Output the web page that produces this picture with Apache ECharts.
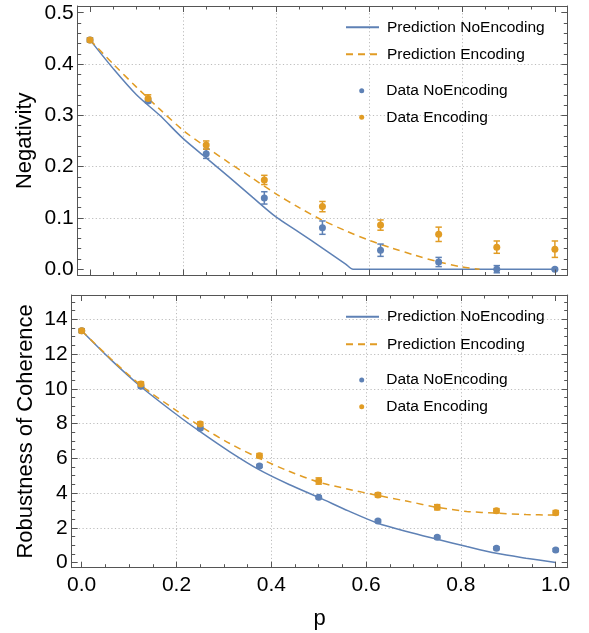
<!DOCTYPE html>
<html>
<head>
<meta charset="utf-8">
<script src="https://cdn.jsdelivr.net/npm/echarts@6/dist/echarts.min.js"></script>
<style>
  html, body { margin: 0; padding: 0; background: #ffffff; }
  #chart { width: 589px; height: 633px; }
</style>
</head>
<body>
<div id="chart"></div>
<script>
// Noise parameter p at which the states were measured
const pData = [0, 0.125, 0.25, 0.375, 0.5, 0.625, 0.75, 0.875, 1];

// Negativity: measured values and uncertainties
const negNoEnc    = [0.447, 0.328, 0.225, 0.139, 0.081, 0.037, 0.014, 0.000, 0.000];
const negNoEncErr = [0.004, 0.004, 0.009, 0.012, 0.013, 0.012, 0.009, 0.007, 0.002];
const negEnc      = [0.447, 0.333, 0.242, 0.174, 0.122, 0.086, 0.068, 0.043, 0.039];
const negEncErr   = [0.004, 0.007, 0.008, 0.009, 0.010, 0.010, 0.014, 0.012, 0.016];

// Negativity: predicted curves
const negPredNoEncP = [0, 0.05, 0.1, 0.15, 0.2, 0.25, 0.3, 0.35, 0.4, 0.45, 0.5, 0.55, 0.566, 0.7, 0.85, 1];
const negPredNoEnc  = [0.447, 0.391, 0.340, 0.300, 0.255, 0.217, 0.179, 0.140, 0.102, 0.072, 0.041, 0.010, 0, 0, 0, 0];
const negPredEncP   = [0, 0.05, 0.1, 0.15, 0.2, 0.25, 0.3, 0.35, 0.4, 0.45, 0.5, 0.55, 0.6, 0.65, 0.7, 0.75, 0.8, 0.838];
const negPredEnc    = [0.447, 0.400, 0.355, 0.312, 0.271, 0.238, 0.207, 0.177, 0.147, 0.120, 0.0955, 0.075, 0.0565, 0.041, 0.027, 0.0142, 0.0045, 0];

// Robustness of coherence: measured values and uncertainties
const rocNoEnc    = [13.34, 10.14, 7.73, 5.56, 3.75, 2.39, 1.45, 0.82, 0.72];
const rocNoEncErr = [0.08, 0.08, 0.08, 0.08, 0.08, 0.08, 0.08, 0.08, 0.08];
const rocEnc      = [13.34, 10.28, 7.97, 6.15, 4.69, 3.89, 3.18, 2.98, 2.87];
const rocEncErr   = [0.12, 0.12, 0.12, 0.12, 0.18, 0.12, 0.15, 0.12, 0.12];

// Robustness of coherence: predicted curves
const rocPredP     = [0, 0.0625, 0.125, 0.2, 0.25, 0.3125, 0.375, 0.4375, 0.5, 0.5625, 0.625, 0.6875, 0.75, 0.8125, 0.875, 0.9375, 1];
const rocPredNoEnc = [13.34, 11.65, 10.12, 8.52, 7.53, 6.37, 5.33, 4.49, 3.75, 2.97, 2.26, 1.77, 1.34, 0.92, 0.53, 0.25, 0.0];
const rocPredEnc   = [13.34, 11.70, 10.20, 8.74, 7.85, 6.85, 6.00, 5.25, 4.63, 4.22, 3.86, 3.52, 3.18, 2.94, 2.84, 2.76, 2.73];

// Tick positions
const xMajor   = [0, 0.2, 0.4, 0.6, 0.8, 1];
const xMinor   = [0.05, 0.1, 0.15, 0.25, 0.3, 0.35, 0.45, 0.5, 0.55, 0.65, 0.7, 0.75, 0.85, 0.9, 0.95];
const xGrid    = [0.2, 0.4, 0.6, 0.8];
const negMajor = [0, 0.1, 0.2, 0.3, 0.4, 0.5];
const negMinor = [0.02, 0.04, 0.06, 0.08, 0.12, 0.14, 0.16, 0.18, 0.22, 0.24, 0.26, 0.28,
                  0.32, 0.34, 0.36, 0.38, 0.42, 0.44, 0.46, 0.48];
const negGrid  = [0.1, 0.2, 0.3, 0.4];
const rocMajor = [0, 2, 4, 6, 8, 10, 12, 14];
const rocMinor = [0.5, 1, 1.5, 2.5, 3, 3.5, 4.5, 5, 5.5, 6.5, 7, 7.5, 8.5, 9, 9.5,
                  10.5, 11, 11.5, 12.5, 13, 13.5, 14.5, 15];
const rocGrid  = [2, 4, 6, 8, 10, 12, 14];

const BLUE = '#5e81b5';
const ORANGE = '#e19c24';
const FRAME = '#555555';
const FONT = '"Liberation Sans", Arial, Helvetica, sans-serif';

function zip(xs, ys) { return xs.map((x, i) => [x, ys[i]]); }
function zip3(xs, ys, es) { return xs.map((x, i) => [x, ys[i], es[i]]); }

// One side of the frame: main line + major ticks (+ optional labels)
function sideAxis(dim, gridIndex, pos, range, majors, labelCfg, nameCfg) {
  const ax = {
    type: 'value', gridIndex, position: pos, min: range[0], max: range[1],
    silent: true, offset: 0, z: 6,
    axisLine: { show: true, onZero: false, lineStyle: { color: FRAME, width: 1 } },
    axisTick: { show: true, inside: true, length: 6, customValues: majors,
                lineStyle: { color: FRAME, width: 1 } },
    axisLabel: { show: false },
    splitLine: { show: false },
    minorTick: { show: false }
  };
  if (labelCfg) {
    ax.axisLabel = {
      show: true, customValues: majors, formatter: labelCfg.fmt, margin: labelCfg.margin,
      color: '#000', fontSize: 21, fontFamily: FONT
    };
  }
  if (nameCfg) {
    Object.assign(ax, {
      name: nameCfg.text, nameLocation: 'middle', nameGap: nameCfg.gap,
      nameRotate: nameCfg.rotate, nameMoveOverlap: false,
      nameTextStyle: { color: '#000', fontSize: 22, fontFamily: FONT }
    });
  }
  return ax;
}
// Shorter minor ticks on one side
function minorAxis(gridIndex, pos, range, minors) {
  return {
    type: 'value', gridIndex, position: pos, min: range[0], max: range[1],
    silent: true, offset: 0, z: 6,
    axisLine: { show: false, onZero: false },
    axisTick: { show: true, inside: true, length: 3.5, customValues: minors,
                lineStyle: { color: FRAME, width: 1 } },
    axisLabel: { show: false }, splitLine: { show: false }, minorTick: { show: false }
  };
}
// Dotted grid lines only
function gridAxis(gridIndex, pos, range, lines) {
  return {
    type: 'value', gridIndex, position: pos, min: range[0], max: range[1],
    silent: true, offset: 0, z: 1,
    axisLine: { show: false, onZero: false },
    axisTick: { show: false, customValues: lines },
    axisLabel: { show: false },
    splitLine: { show: true, lineStyle: { color: '#bdbdbd', width: 1, type: [1.2, 2.4] } },
    minorTick: { show: false }
  };
}

const xRange0 = [-0.0264, 1.0267];
const yRange0 = [-0.0123, 0.5131];
const xRange1 = [-0.0211, 1.0253];
const yRange1 = [-0.30, 15.40];

const fmt1 = v => Number(v).toFixed(1);
const fmt0 = v => String(Math.round(v));

const xAxis = [
  sideAxis('x', 0, 'bottom', xRange0, xMajor, null, null),
  minorAxis(0, 'bottom', xRange0, xMinor),
  sideAxis('x', 0, 'top', xRange0, xMajor, null, null),
  minorAxis(0, 'top', xRange0, xMinor),
  gridAxis(0, 'bottom', xRange0, xGrid),
  sideAxis('x', 1, 'bottom', xRange1, xMajor, { fmt: fmt1, margin: 7 }, { text: 'p', gap: 40, rotate: 0 }),
  minorAxis(1, 'bottom', xRange1, xMinor),
  sideAxis('x', 1, 'top', xRange1, xMajor, null, null),
  minorAxis(1, 'top', xRange1, xMinor),
  gridAxis(1, 'bottom', xRange1, xGrid)
];
const yAxis = [
  sideAxis('y', 0, 'left', yRange0, negMajor, { fmt: fmt1, margin: 4 }, { text: 'Negativity', gap: 42, rotate: 90 }),
  minorAxis(0, 'left', yRange0, negMinor),
  sideAxis('y', 0, 'right', yRange0, negMajor, null, null),
  minorAxis(0, 'right', yRange0, negMinor),
  gridAxis(0, 'left', yRange0, negGrid),
  sideAxis('y', 1, 'left', yRange1, rocMajor, { fmt: fmt0, margin: 4 }, { text: 'Robustness of Coherence', gap: 35, rotate: 90 }),
  minorAxis(1, 'left', yRange1, rocMinor),
  sideAxis('y', 1, 'right', yRange1, rocMajor, null, null),
  minorAxis(1, 'right', yRange1, rocMinor),
  gridAxis(1, 'left', yRange1, rocGrid)
];

function errorBarRenderer(color) {
  return function (params, api) {
    const x = api.value(0), y = api.value(1), e = api.value(2);
    const hi = api.coord([x, y + e]);
    const lo = api.coord([x, y - e]);
    const cap = 3.2;
    const style = { stroke: color, lineWidth: 1.5, fill: null };
    return {
      type: 'group',
      children: [
        { type: 'line', shape: { x1: hi[0], y1: hi[1], x2: lo[0], y2: lo[1] }, style },
        { type: 'line', shape: { x1: hi[0] - cap, y1: hi[1], x2: hi[0] + cap, y2: hi[1] }, style },
        { type: 'line', shape: { x1: lo[0] - cap, y1: lo[1], x2: lo[0] + cap, y2: lo[1] }, style }
      ]
    };
  };
}

function panelSeries(axisIdx, predNo, predEnc, dataNo, dataEnc) {
  return [
    { name: 'Prediction NoEncoding', type: 'line', xAxisIndex: axisIdx, yAxisIndex: axisIdx,
      data: predNo, symbol: 'none', showSymbol: false, smooth: 0.3, z: 3,
      lineStyle: { color: BLUE, width: 1.5 }, itemStyle: { color: BLUE } },
    { name: 'Prediction Encoding', type: 'line', xAxisIndex: axisIdx, yAxisIndex: axisIdx,
      data: predEnc, symbol: 'none', showSymbol: false, smooth: 0.3, z: 3,
      lineStyle: { color: ORANGE, width: 1.5, type: [7, 5] }, itemStyle: { color: ORANGE } },
    { type: 'custom', xAxisIndex: axisIdx, yAxisIndex: axisIdx, z: 4,
      data: dataNo, renderItem: errorBarRenderer(BLUE) },
    { name: 'Data NoEncoding', type: 'scatter', xAxisIndex: axisIdx, yAxisIndex: axisIdx,
      data: dataNo.map(d => [d[0], d[1]]), symbol: 'circle', symbolSize: 7, z: 5,
      itemStyle: { color: BLUE, opacity: 1 } },
    { type: 'custom', xAxisIndex: axisIdx, yAxisIndex: axisIdx, z: 4,
      data: dataEnc, renderItem: errorBarRenderer(ORANGE) },
    { name: 'Data Encoding', type: 'scatter', xAxisIndex: axisIdx, yAxisIndex: axisIdx,
      data: dataEnc.map(d => [d[0], d[1]]), symbol: 'circle', symbolSize: 7, z: 5,
      itemStyle: { color: ORANGE, opacity: 1 } }
  ];
}

const series = [].concat(
  panelSeries(0, zip(negPredNoEncP, negPredNoEnc), zip(negPredEncP, negPredEnc),
              zip3(pData, negNoEnc, negNoEncErr), zip3(pData, negEnc, negEncErr)),
  panelSeries(5, zip(rocPredP, rocPredNoEnc), zip(rocPredP, rocPredEnc),
              zip3(pData, rocNoEnc, rocNoEncErr), zip3(pData, rocEnc, rocEncErr))
);

const legendText = { color: '#000', fontSize: 15.5, lineHeight: 18, fontFamily: FONT, padding: [0, 0, 0, 3] };
// Line entries: the line sample only, no marker on it
function lineLegend(names, top, gap) {
  return {
    data: names, orient: 'vertical', left: 345, top, itemGap: gap,
    itemWidth: 33, itemHeight: 14, padding: 0, selectedMode: false,
    itemStyle: { opacity: 0 },
    textStyle: legendText, backgroundColor: 'transparent'
  };
}
// Point entries: a small dot
function dotLegend(names, top, gap) {
  return {
    data: names, orient: 'vertical', left: 359.2, top, itemGap: gap,
    itemWidth: 33, itemHeight: 5, icon: 'circle', padding: 0, selectedMode: false,
    textStyle: legendText, backgroundColor: 'transparent'
  };
}

const option = {
  animation: false,
  backgroundColor: '#ffffff',
  grid: [
    { left: 77.7, top: 6, width: 489.6, height: 269.5, outerBoundsMode: 'none', containLabel: false },
    { left: 71.7, top: 295, width: 496, height: 272.7, outerBoundsMode: 'none', containLabel: false }
  ],
  xAxis, yAxis,
  legend: [
    lineLegend(['Prediction NoEncoding', 'Prediction Encoding'], 18.3, 9),
    dotLegend(['Data NoEncoding', 'Data Encoding'], 81.7, 8.6),
    lineLegend(['Prediction NoEncoding', 'Prediction Encoding'], 307.7, 9.6),
    dotLegend(['Data NoEncoding', 'Data Encoding'], 371, 8.7)
  ],
  series
};

const chart = echarts.init(document.getElementById('chart'), null, { renderer: 'canvas' });
chart.setOption(option);
</script>
</body>
</html>
